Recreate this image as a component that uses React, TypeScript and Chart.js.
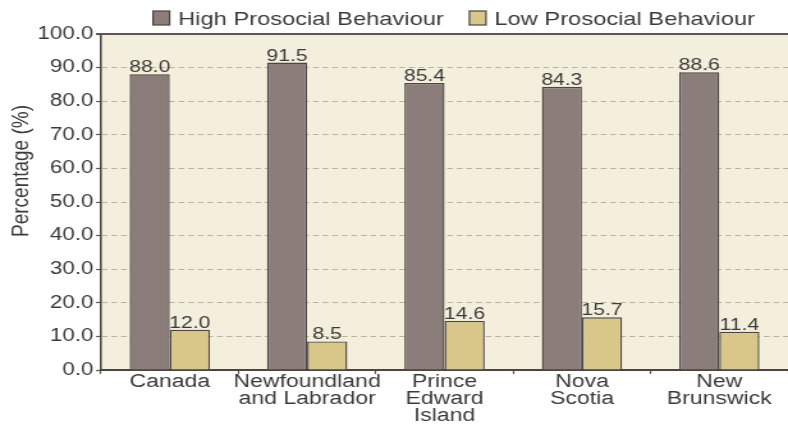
import React, { useEffect, useRef } from "react";
import { Chart, registerables } from "chart.js";

Chart.register(...registerables);

// ---- data ----
const categories: string[][] = [
  ["Canada"],
  ["Newfoundland", "and Labrador"],
  ["Prince", "Edward", "Island"],
  ["Nova", "Scotia"],
  ["New", "Brunswick"],
];
const seriesNames = ["High Prosocial Behaviour", "Low Prosocial Behaviour"];
const highValues = [88.0, 91.5, 85.4, 84.3, 88.6];
const lowValues = [12.0, 8.5, 14.6, 15.7, 11.4];
const yMin = 0;
const yMax = 100;
const yStep = 10;
const yTitle = "Percentage (%)";

// ---- style ----
const FONT = "'Liberation Sans', Arial, Helvetica, sans-serif";
const TEXT = "#3a3a3a";
const HIGH_COLOR = "#8b7d7a";
const LOW_COLOR = "#d9c78a";
const BORDER = "#4a4643";
const PLOT_BG = "#f4efdc";
const CANVAS_W = 616; // drawn width, stretched to 788px on screen
const CANVAS_H = 425;

const decorPlugin = {
  id: "decor",
  beforeDraw(chart: any) {
    const { ctx, chartArea: a } = chart;
    ctx.save();
    ctx.fillStyle = PLOT_BG;
    ctx.fillRect(a.left, a.top, a.right - a.left, a.bottom - a.top);
    ctx.restore();
  },
  afterDatasetsDraw(chart: any) {
    const { ctx } = chart;
    ctx.save();
    ctx.font = `16.5px ${FONT}`;
    ctx.fillStyle = TEXT;
    ctx.textAlign = "center";
    ctx.textBaseline = "alphabetic";
    chart.data.datasets.forEach((ds: any, di: number) => {
      const meta = chart.getDatasetMeta(di);
      meta.data.forEach((el: any, i: number) => {
        ctx.fillText(Number(ds.data[i]).toFixed(1), el.x, el.y - 2);
      });
    });
    ctx.restore();
  },
  afterDraw(chart: any) {
    const { ctx, chartArea: a } = chart;
    ctx.save();
    // top frame line
    ctx.strokeStyle = "#5a5754";
    ctx.lineWidth = 2;
    ctx.beginPath();
    ctx.moveTo(a.left - 4, a.top);
    ctx.lineTo(a.right, a.top);
    ctx.stroke();

    // legend
    ctx.font = `18.5px ${FONT}`;
    ctx.textAlign = "left";
    ctx.textBaseline = "alphabetic";
    let x = 119.6;
    chart.data.datasets.forEach((ds: any) => {
      ctx.fillStyle = ds.backgroundColor;
      ctx.fillRect(x, 11, 13, 14);
      ctx.strokeStyle = BORDER;
      ctx.lineWidth = 1.2;
      ctx.strokeRect(x, 11, 13, 14);
      x += 13 + 6.6;
      ctx.fillStyle = TEXT;
      ctx.fillText(ds.label, x, 25);
      x += ctx.measureText(ds.label).width + 20;
    });

    // y axis title
    ctx.translate(17.2, 171);
    ctx.rotate(-Math.PI / 2);
    ctx.textAlign = "center";
    ctx.textBaseline = "middle";
    ctx.font = `19px ${FONT}`;
    ctx.fillStyle = TEXT;
    ctx.fillText(yTitle, 0, 0);
    ctx.restore();
  },
};

export default function App() {
  const canvasRef = useRef<HTMLCanvasElement | null>(null);

  useEffect(() => {
    const canvas = canvasRef.current;
    if (!canvas) return;
    const chart = new Chart(canvas, {
      type: "bar",
      data: {
        labels: categories,
        datasets: [
          {
            label: seriesNames[0],
            data: highValues,
            backgroundColor: HIGH_COLOR,
            borderColor: BORDER,
            borderWidth: 1.4,
          },
          {
            label: seriesNames[1],
            data: lowValues,
            backgroundColor: LOW_COLOR,
            borderColor: BORDER,
            borderWidth: 1.4,
          },
        ],
      },
      options: {
        responsive: false,
        animation: false,
        devicePixelRatio: 1,
        layout: { padding: { top: 34, left: 0, right: 0, bottom: 0 } },
        datasets: {
          bar: { categoryPercentage: 0.584, barPercentage: 1.0 },
        },
        plugins: {
          legend: { display: false },
          tooltip: { enabled: false },
        },
        scales: {
          x: {
            offset: true,
            grid: {
              display: true,
              offset: true,
              drawOnChartArea: false,
              drawTicks: true,
              tickLength: 4,
              tickColor: "#5a5754",
              tickWidth: 1.2,
            },
            border: { display: true, color: "#4a4643", width: 2 },
            ticks: {
              padding: 0,
              color: TEXT,
              font: { family: FONT, size: 18, lineHeight: 0.93 },
              maxRotation: 0,
              autoSkip: false,
            },
            afterFit: (scale: any) => {
              scale.height = 55;
            },
          },
          y: {
            min: yMin,
            max: yMax,
            grid: {
              color: (ctx: any) =>
                ctx.tick && (ctx.tick.value === yMax || ctx.tick.value === yMin)
                  ? "rgba(0,0,0,0)"
                  : "#b9b1a1",
              lineWidth: 1,
              drawTicks: true,
              tickLength: 4,
              tickColor: "#5a5754",
              tickWidth: 1.2,
            },
            border: { display: true, color: "#4a4643", width: 1.6, dash: [4.5, 3] },
            ticks: {
              stepSize: yStep,
              padding: 2,
              color: TEXT,
              font: { family: FONT, size: 17.5 },
              callback: (v: any) => Number(v).toFixed(1),
            },
            afterFit: (scale: any) => {
              scale.width = 79;
            },
          },
        },
      },
      plugins: [decorPlugin],
    });
    return () => chart.destroy();
  }, []);

  return (
    <div style={{ position: "absolute", left: 0, top: 0, width: 788, height: 425, overflow: "hidden", background: "#fff" }}>
      <canvas
        ref={canvasRef}
        width={CANVAS_W}
        height={CANVAS_H}
        style={{ width: "788px", height: "425px", display: "block" }}
      />
    </div>
  );
}
